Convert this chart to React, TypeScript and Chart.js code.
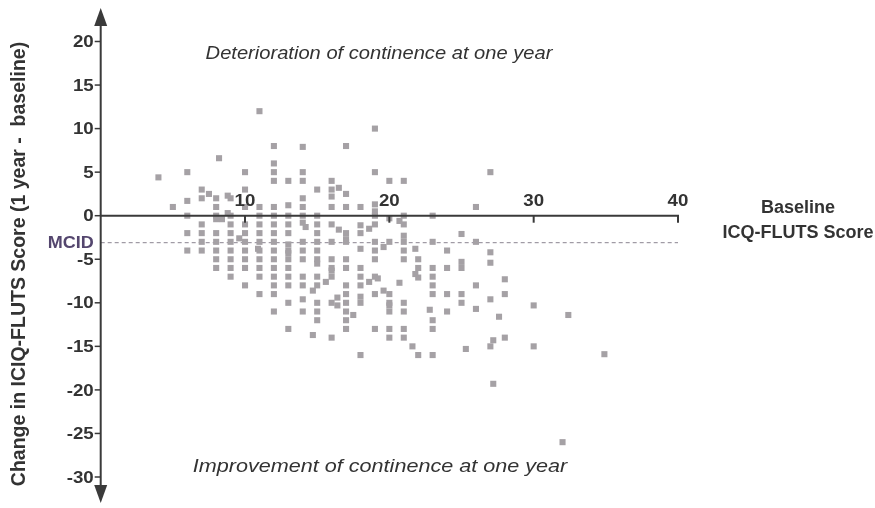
import { useEffect, useRef } from "react";
import { Chart, registerables } from "chart.js";
Chart.register(...registerables);

// ---- Data ----
const xTicks = [10, 20, 30, 40];
const yTicks = [20, 15, 10, 5, 0, -5, -10, -15, -20, -25, -30];
const mcidValue = -3.1;

// Baseline score columns (integer baseline values) and the changes observed at each
const columnX = [4, 5, 6, 7, 8, 9, 10, 11, 12, 13, 14, 15, 16, 17, 18, 19, 20, 21, 22, 23, 24, 25, 26, 27, 28, 30];
const columnY: number[][] = [
  [4.4],
  [1],
  [5, 1.7, 0, -2, -4],
  [3, 2, -1, -2, -3, -4],
  [2, 1, 0, -0.4, -2, -3, -4, -5, -6],
  [2, 0, -1, -2, -3, -4, -5, -6, -7],
  [5, 3, 1, -1, -2, -3, -4, -5, -6, -8],
  [12, 1, 0, -1, -2, -3, -4, -5, -6, -7, -9],
  [8, 6, 5, 4, 1, 0, -1, -2, -3, -4, -5, -6, -7, -8, -9, -11],
  [4, 1.2, 0, -1, -2, -3.3, -4, -4.3, -5, -6, -7, -8, -10, -13],
  [7.9, 5, 4, 2, 1, 0, -0.8, -3, -4, -5, -7, -8, -9.6, -11],
  [3, 0, -1, -2, -3, -4, -5, -5.5, -7, -8, -10, -11, -12],
  [4, 3, 2.2, 1, -1, -3, -5, -6, -6.3, -7, -10, -14],
  [8, 2.5, 1, -2, -2.7, -3, -5, -6, -8, -9, -10, -11, -12, -13],
  [1, -1.1, -2, -3.8, -6, -7, -8, -9.3, -10, -16],
  [10, 5, 1.3, 0.5, 0, -1, -3, -4, -5, -7, -9, -13],
  [4, -0.3, -3, -9, -10, -10.3, -11, -13, -14],
  [4, 0, -1, -2.3, -3, -4, -5, -10, -11, -13, -14],
  [-5, -6, -7.1, -16],
  [0, -3, -6, -7, -8, -9, -12, -13, -16],
  [-4, -6, -9, -11],
  [-2.1, -5.3, -6, -9, -10],
  [1, -3, -8, -10.7],
  [5, -4.2, -5.4, -9.6, -15],
  [-7.3, -9, -14],
  [-10.3, -15],
];

// Points that sit between the integer columns
const extraX = [7.5, 8.2, 8.4, 8.8, 8.8, 9.6, 10.9, 14.2, 14.7, 14.7, 15.6, 16.4, 16.4, 16.5, 16.5, 17.5, 18.6, 18.6, 19.2, 19.6, 19.6, 20.7, 20.7, 21.6, 21.8, 21.8, 22.8, 25.3, 27.2, 27.6, 27.2, 32.4, 34.9, 32];
const extraY = [2.5, 6.6, -0.4, 2.3, 0.3, -2.6, -3.8, -1.3, -8.6, -13.7, -7.6, -9.4, -10.3, 3.2, -1.6, -11.4, -1.5, -7.6, -7.2, -3.6, -8.6, -0.6, -7.7, -15, -3.8, -6.7, -10.8, -15.3, -14.3, -11.6, -19.3, -11.4, -15.9, -26];

const FONT = '"Liberation Sans", Arial, Helvetica, sans-serif';
const AXIS_COLOR = "#3a3a3a";
const TEXT_COLOR = "#333333";

function drawText(
  ctx: CanvasRenderingContext2D,
  text: string,
  x: number,
  y: number,
  font: string,
  stretch: number,
  align: CanvasTextAlign
) {
  ctx.save();
  ctx.font = font;
  ctx.textAlign = align;
  ctx.textBaseline = "middle";
  ctx.translate(x, y);
  ctx.scale(stretch, 1);
  ctx.fillText(text, 0, 0);
  ctx.restore();
}

export default function App() {
  const ref = useRef<HTMLCanvasElement>(null);

  useEffect(() => {
    if (!ref.current) return;
    const points: { x: number; y: number }[] = [];
    columnX.forEach((x, i) => columnY[i].forEach((y) => points.push({ x, y })));
    extraX.forEach((x, i) => points.push({ x, y: extraY[i] }));

    const axesPlugin = {
      id: "customAxes",
      beforeDatasetsDraw(chart: any) {
        const { ctx } = chart;
        const xs = chart.scales.x;
        const ys = chart.scales.y;
        const x0 = xs.getPixelForValue(0);
        const xEnd = xs.getPixelForValue(xTicks[xTicks.length - 1]);
        ctx.save();
        const ym = ys.getPixelForValue(mcidValue);
        ctx.strokeStyle = "#8a8490";
        ctx.lineWidth = 1;
        ctx.setLineDash([4, 3]);
        ctx.beginPath();
        ctx.moveTo(x0, ym);
        ctx.lineTo(xEnd, ym);
        ctx.stroke();
        ctx.restore();
      },
      afterDatasetsDraw(chart: any) {
        const { ctx } = chart;
        const xs = chart.scales.x;
        const ys = chart.scales.y;
        const x0 = xs.getPixelForValue(0);
        const xEnd = xs.getPixelForValue(xTicks[xTicks.length - 1]);
        const y0 = ys.getPixelForValue(0);
        const yTop = ys.getPixelForValue(yTicks[0]);
        const yBot = ys.getPixelForValue(yTicks[yTicks.length - 1]);
        ctx.save();
        ctx.strokeStyle = AXIS_COLOR;
        ctx.fillStyle = AXIS_COLOR;
        ctx.lineWidth = 2;
        // Y axis line with arrows
        const topTip = yTop - 33.5;
        const botTip = yBot + 26;
        ctx.beginPath();
        ctx.moveTo(x0, topTip + 14);
        ctx.lineTo(x0, botTip - 14);
        ctx.stroke();
        ctx.beginPath();
        ctx.moveTo(x0, topTip);
        ctx.lineTo(x0 - 6.5, topTip + 18);
        ctx.lineTo(x0 + 6.5, topTip + 18);
        ctx.closePath();
        ctx.fill();
        ctx.beginPath();
        ctx.moveTo(x0, botTip);
        ctx.lineTo(x0 - 6.5, botTip - 18);
        ctx.lineTo(x0 + 6.5, botTip - 18);
        ctx.closePath();
        ctx.fill();
        // X axis line
        ctx.beginPath();
        ctx.moveTo(x0, y0);
        ctx.lineTo(xEnd + 1, y0);
        ctx.stroke();
        // Y ticks
        ctx.lineWidth = 1.5;
        ctx.fillStyle = TEXT_COLOR;
        yTicks.forEach((v) => {
          const py = ys.getPixelForValue(v);
          ctx.beginPath();
          ctx.moveTo(x0 - 6, py);
          ctx.lineTo(x0, py);
          ctx.stroke();
          drawText(ctx, String(v), x0 - 7, py + 1, `bold 17px ${FONT}`, 1.1, "right");
        });
        // MCID label
        const ym = ys.getPixelForValue(mcidValue);
        ctx.fillStyle = "#54466e";
        drawText(ctx, "MCID", x0 - 7, ym + 1, `bold 17px ${FONT}`, 1.06, "right");
        // X ticks
        ctx.fillStyle = TEXT_COLOR;
        xTicks.forEach((v) => {
          const px = xs.getPixelForValue(v);
          ctx.lineWidth = 2;
          ctx.beginPath();
          ctx.moveTo(px, y0);
          ctx.lineTo(px, y0 + 7);
          ctx.stroke();
          drawText(ctx, String(v), px, y0 - 14, `bold 17px ${FONT}`, 1.1, "center");
        });
        // X axis title
        drawText(ctx, "Baseline", 798, 208.5, `bold 17.5px ${FONT}`, 1.03, "center");
        drawText(ctx, "ICQ-FLUTS Score", 798, 233, `bold 17.5px ${FONT}`, 1.03, "center");
        // Region annotations
        drawText(ctx, "Deterioration of continence at one year", 379, 54.5, `italic 17.5px ${FONT}`, 1.15, "center");
        drawText(ctx, "Improvement of continence at one year", 380, 467, `italic 18.8px ${FONT}`, 1.15, "center");
        // Y axis title
        ctx.save();
        ctx.translate(20, 264);
        ctx.rotate(-Math.PI / 2);
        ctx.font = `bold 19.5px ${FONT}`;
        ctx.textAlign = "center";
        ctx.textBaseline = "middle";
        ctx.fillText("Change in ICIQ-FLUTS Score (1 year -  baseline)", 0, 0);
        ctx.restore();
        ctx.restore();
      },
    };

    const chart = new Chart(ref.current, {
      type: "scatter",
      data: {
        datasets: [
          {
            data: points,
            pointStyle: "rect",
            pointRadius: 4.3,
            pointHoverRadius: 4.3,
            backgroundColor: "#a5a1a5",
            borderWidth: 0,
            clip: false as any,
          },
        ],
      },
      options: {
        animation: false,
        responsive: true,
        maintainAspectRatio: false,
        layout: { padding: { left: 100.7, right: 197, top: 41.5, bottom: 31 } },
        scales: {
          x: { type: "linear", min: 0, max: 40, display: false },
          y: { type: "linear", min: -30, max: 20, display: false },
        },
        plugins: { legend: { display: false }, tooltip: { enabled: false } },
      },
      plugins: [axesPlugin],
    });
    return () => chart.destroy();
  }, []);

  return (
    <div style={{ position: "fixed", left: 0, top: 0, width: 875, height: 508, background: "#ffffff" }}>
      <canvas ref={ref} />
    </div>
  );
}
